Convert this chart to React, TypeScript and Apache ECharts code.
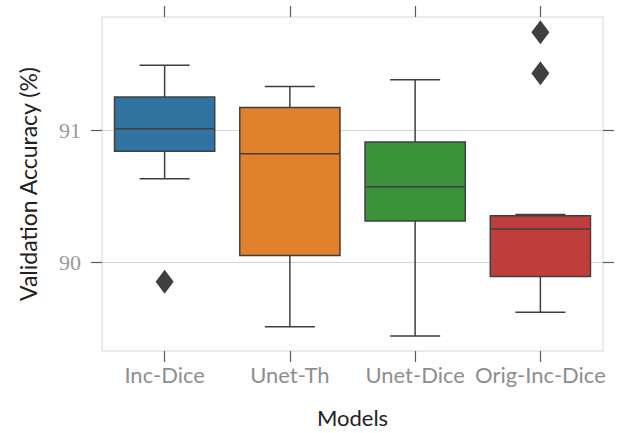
import React, { useEffect, useRef } from "react";
import * as echarts from "echarts";

// Box statistics per model (validation accuracy, %)
const models = ["Inc-Dice", "Unet-Th", "Unet-Dice", "Orig-Inc-Dice"];
const whiskerLow = [90.63, 89.51, 89.44, 89.62];
const q1 = [90.84, 90.05, 90.31, 89.89];
const median = [91.01, 90.82, 90.57, 90.25];
const q3 = [91.25, 91.17, 90.91, 90.35];
const whiskerHigh = [91.49, 91.33, 91.38, 90.36];

// Outlying runs
const outlierModel = ["Inc-Dice", "Orig-Inc-Dice", "Orig-Inc-Dice"];
const outlierValue = [89.85, 91.43, 91.74];

const yTicks = [90, 91];
const yMin = 89.326;
const yMax = 91.856;

const palette = ["#3274a1", "#e1812c", "#3a923a", "#c03d3e"];
const edge = "#3f3f3f";
const frame = "#d6d6d6";
const tickColor = "#5a5a5a";

export default function App() {
  const ref = useRef<HTMLDivElement>(null);

  useEffect(() => {
    if (!ref.current) return;
    const chart = echarts.init(ref.current, undefined, { renderer: "svg" });

    const boxData = models.map((_, i) => [
      i,
      whiskerLow[i],
      q1[i],
      median[i],
      q3[i],
      whiskerHigh[i],
    ]);

    const renderBox = (params: any, api: any) => {
      const i = api.value(0);
      const lo = api.coord([i, api.value(1)]);
      const b1 = api.coord([i, api.value(2)]);
      const md = api.coord([i, api.value(3)]);
      const b3 = api.coord([i, api.value(4)]);
      const hi = api.coord([i, api.value(5)]);
      const bw = api.size([1, 0])[0] * 0.8;
      const x = lo[0];
      const ls = { stroke: edge, lineWidth: 1.5, fill: null };
      return {
        type: "group",
        children: [
          { type: "line", shape: { x1: x, y1: lo[1], x2: x, y2: b1[1] }, style: ls },
          { type: "line", shape: { x1: x, y1: b3[1], x2: x, y2: hi[1] }, style: ls },
          { type: "line", shape: { x1: x - bw / 4, y1: lo[1], x2: x + bw / 4, y2: lo[1] }, style: ls },
          { type: "line", shape: { x1: x - bw / 4, y1: hi[1], x2: x + bw / 4, y2: hi[1] }, style: ls },
          {
            type: "rect",
            shape: { x: x - bw / 2, y: b3[1], width: bw, height: b1[1] - b3[1] },
            style: { fill: palette[i], stroke: edge, lineWidth: 1.5 },
          },
          { type: "line", shape: { x1: x - bw / 2, y1: md[1], x2: x + bw / 2, y2: md[1] }, style: ls },
        ],
      };
    };

    const catAxisBase = {
      type: "category",
      data: models,
      boundaryGap: true,
      axisLine: { show: false },
      axisTick: { show: true, alignWithLabel: true, length: 11, lineStyle: { color: tickColor, width: 1.2 } },
      splitLine: { show: false },
    };

    const valAxisBase = {
      type: "value",
      min: yMin,
      max: yMax,
      axisLine: { show: false },
      axisTick: { show: true, length: 11, customValues: yTicks, lineStyle: { color: tickColor, width: 1.2 } },
    };

    chart.setOption({
      animation: false,
      grid: {
        left: 102,
        right: 16,
        top: 17,
        bottom: 82,
        show: true,
        borderColor: frame,
        borderWidth: 1,
        backgroundColor: "transparent",
      },
      xAxis: [
        {
          ...catAxisBase,
          position: "bottom",
          name: "Models",
          nameLocation: "middle",
          nameGap: 55,
          nameTextStyle: { fontFamily: "Lato", fontSize: 22, color: "#222" },
          axisLabel: { interval: 0, margin: 12, fontFamily: "Lato", fontSize: 22, color: "#8e8e8e" },
        },
        {
          ...catAxisBase,
          position: "top",
          axisLabel: { show: false },
        },
      ],
      yAxis: [
        {
          ...valAxisBase,
          position: "left",
          name: "Validation Accuracy (%)",
          nameLocation: "middle",
          nameGap: 63,
          nameTextStyle: { fontFamily: "Lato", fontSize: 23, color: "#222" },
          axisLabel: {
            customValues: yTicks,
            margin: 21,
            fontFamily: "'Liberation Serif', serif",
            fontSize: 22,
            color: "#999",
          },
          splitLine: { show: true, lineStyle: { color: frame, width: 1 } },
        },
        {
          ...valAxisBase,
          position: "right",
          axisLabel: { show: false },
          splitLine: { show: false },
        },
      ],
      series: [
        {
          type: "custom",
          xAxisIndex: 0,
          yAxisIndex: 0,
          data: boxData,
          encode: { x: 0, y: [1, 2, 3, 4, 5] },
          renderItem: renderBox,
          z: 3,
        },
        {
          type: "scatter",
          xAxisIndex: 0,
          yAxisIndex: 0,
          symbol: "diamond",
          symbolSize: [18, 24],
          itemStyle: { color: edge, opacity: 1 },
          data: outlierModel.map((m, k) => [m, outlierValue[k]]),
          z: 4,
        },
      ],
    });

    return () => chart.dispose();
  }, []);

  return (
    <div
      ref={ref}
      style={{ position: "absolute", left: 0, top: 0, width: 619, height: 433, background: "#fff" }}
    />
  );
}
